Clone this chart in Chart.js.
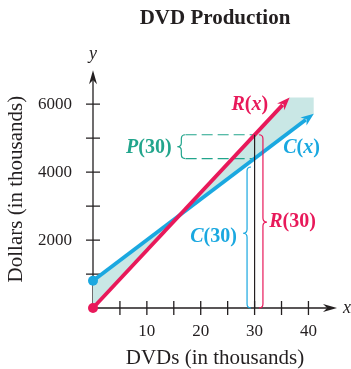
<!DOCTYPE html>
<html>
<head>
<meta charset="utf-8">
<script src="https://cdn.jsdelivr.net/npm/chart.js@4.4.0/dist/chart.umd.min.js"></script>
<style>
  html, body { margin: 0; padding: 0; background: #fff; }
  #wrap { width: 351px; height: 369px; }
</style>
</head>
<body>
<div id="wrap"><canvas id="chart"></canvas></div>
<script>
// values (x in thousands of DVDs, y in thousands of dollars)
const revenueLine = [{x: 0, y: 0}, {x: 35.2, y: 5980}];
const costLine = [{x: 0, y: 800}, {x: 39.5, y: 5540}];
const revenueTip = {x: 36.5, y: 6200};
const costTip = {x: 41, y: 5720};
const shadeTop = [{x: 0, y: 800}, {x: 16, y: 2720}, {x: 36.5, y: 6200}, {x: 41, y: 6200}];
const shadeBottom = [{x: 0, y: 0}, {x: 16, y: 2720}, {x: 41, y: 5720}];
const atX = 30;
const r30 = 5100;
const c30 = 4400;
const xTickLabels = [10, 20, 30, 40];
const yTickLabels = [2000, 4000, 6000];

const red = '#e8195a';
const blue = '#1aa8e0';
const teal = '#22a58c';
const ink = '#231f20';
const serif = '"Liberation Serif", "DejaVu Serif", serif';

function arrow(ctx, x0, y0, x1, y1, color, len, half) {
  const a = Math.atan2(y1 - y0, x1 - x0);
  ctx.save();
  ctx.translate(x1, y1);
  ctx.rotate(a);
  ctx.fillStyle = color;
  ctx.beginPath();
  ctx.moveTo(0, 0);
  ctx.lineTo(-len, -half);
  ctx.lineTo(-len * 0.7, 0);
  ctx.lineTo(-len, half);
  ctx.closePath();
  ctx.fill();
  ctx.restore();
}

function brace(ctx, x, y1, y2, ym, dir, w, color) {
  ctx.save();
  ctx.strokeStyle = color;
  ctx.lineWidth = 1.2;
  ctx.beginPath();
  ctx.moveTo(x - dir * w, y1);
  ctx.quadraticCurveTo(x, y1, x, y1 + w);
  ctx.lineTo(x, ym - w);
  ctx.quadraticCurveTo(x, ym, x + dir * w, ym);
  ctx.quadraticCurveTo(x, ym, x, ym + w);
  ctx.lineTo(x, y2 - w);
  ctx.quadraticCurveTo(x, y2, x - dir * w, y2);
  ctx.stroke();
  ctx.restore();
}

function mixed(ctx, parts, x, y, align, color) {
  let total = 0;
  parts.forEach(p => { ctx.font = p[1]; total += ctx.measureText(p[0]).width; });
  let cx = align === 'right' ? x - total : align === 'center' ? x - total / 2 : x;
  ctx.fillStyle = color;
  ctx.textAlign = 'left';
  ctx.textBaseline = 'middle';
  parts.forEach(p => { ctx.font = p[1]; ctx.fillText(p[0], cx, y); cx += ctx.measureText(p[0]).width; });
}

const BI = 'bold italic 20px ' + serif;
const B = 'bold 20px ' + serif;

const drawing = {
  id: 'drawing',
  beforeDatasetsDraw(chart) {
    const {ctx, chartArea: a} = chart;
    const xs = chart.scales.x, ys = chart.scales.y;
    const x0 = xs.getPixelForValue(0), y0 = ys.getPixelForValue(0);
    ctx.save();
    ctx.strokeStyle = ink;
    ctx.lineWidth = 1.3;
    ctx.beginPath();
    ctx.moveTo(x0, y0); ctx.lineTo(a.right - 6, y0);
    ctx.moveTo(x0, y0); ctx.lineTo(x0, a.top + 6);
    for (let v = 5; v <= 40; v += 5) {
      const px = xs.getPixelForValue(v);
      ctx.moveTo(px, y0 - 7); ctx.lineTo(px, y0 + 7);
    }
    for (let v = 1000; v <= 6000; v += 1000) {
      const py = ys.getPixelForValue(v);
      ctx.moveTo(x0 - 7, py); ctx.lineTo(x0 + 7, py);
    }
    ctx.stroke();
    arrow(ctx, x0, y0, a.right, y0, ink, 14, 4);
    arrow(ctx, x0, y0, x0, a.top, ink, 14, 4);
    ctx.fillStyle = ink;
    ctx.font = 'italic 18px ' + serif;
    ctx.textAlign = 'center';
    ctx.textBaseline = 'middle';
    ctx.fillText('y', x0, a.top - 16);
    ctx.textAlign = 'left';
    ctx.fillText('x', a.right + 6, y0);
    ctx.restore();
  },
  afterDatasetsDraw(chart) {
    const {ctx} = chart;
    const xs = chart.scales.x, ys = chart.scales.y;
    const px = v => xs.getPixelForValue(v), py = v => ys.getPixelForValue(v);
    ctx.save();
    const rl = revenueLine[revenueLine.length - 1], cl = costLine[costLine.length - 1];
    arrow(ctx, px(rl.x), py(rl.y), px(revenueTip.x), py(revenueTip.y), red, 13, 5);
    arrow(ctx, px(cl.x), py(cl.y), px(costTip.x), py(costTip.y), blue, 13, 5);
    // braces
    brace(ctx, px(16.4), py(r30), py(c30), py((r30 + c30) / 2), -1, 4, teal);
    brace(ctx, px(28.6), py(4150), py(0), py(2200), -1, 4, blue);
    brace(ctx, px(31.55), py(r30), py(0), py(2530), 1, 4, red);
    // labels
    mixed(ctx, [['R', BI], ['(', B], ['x', BI], [')', B]], px(32.5), py(5970), 'right', red);
    mixed(ctx, [['C', BI], ['(', B], ['x', BI], [')', B]], px(35.3), py(4706), 'left', blue);
    mixed(ctx, [['P', BI], ['(30)', B]], px(14.6), py(4720), 'right', teal);
    mixed(ctx, [['C', BI], ['(30)', B]], px(26.7), py(2088), 'right', blue);
    mixed(ctx, [['R', BI], ['(30)', B]], px(32.7), py(2530), 'left', red);
    ctx.restore();
  }
};

new Chart(document.getElementById('chart'), {
  type: 'line',
  data: {
    datasets: [
      {data: shadeTop, borderWidth: 0, pointRadius: 0, fill: '+1', backgroundColor: '#c9e7e5', order: 10},
      {data: shadeBottom, borderWidth: 0, pointRadius: 0, fill: false, order: 11},
      {data: [{x: 17.2, y: r30}, {x: atX, y: r30}], borderColor: teal, borderWidth: 1.2, borderDash: [11, 5], pointRadius: 0, order: 5},
      {data: [{x: 17.2, y: c30}, {x: atX, y: c30}], borderColor: teal, borderWidth: 1.2, borderDash: [11, 5], pointRadius: 0, order: 5},
      {data: costLine, borderColor: blue, borderWidth: 3.8, pointRadius: [5, 0], pointBackgroundColor: blue, pointBorderWidth: 0, order: 3},
      {data: revenueLine, borderColor: red, borderWidth: 3.8, pointRadius: [5, 0], pointBackgroundColor: red, pointBorderWidth: 0, order: 2},
      {data: [{x: atX, y: 0}, {x: atX, y: r30}], borderColor: ink, borderWidth: 1.2, pointRadius: 0, order: 1}
    ]
  },
  options: {
    responsive: true,
    maintainAspectRatio: false,
    animation: false,
    clip: false,
    layout: {padding: {left: 0, right: 14, top: 0, bottom: 0}},
    plugins: {
      legend: {display: false},
      tooltip: {enabled: false},
      title: {
        display: true,
        text: 'DVD Production',
        fullSize: false,
        color: ink,
        font: {family: serif, size: 21, weight: 'bold'},
        padding: {top: 6, bottom: 39}
      }
    },
    scales: {
      x: {
        type: 'linear',
        min: 0,
        max: 45.3,
        afterFit: s => { s.height = 61; },
        grid: {display: false},
        border: {display: false},
        ticks: {
          stepSize: 5,
          autoSkip: false,
          maxRotation: 0,
          padding: 5,
          color: ink,
          font: {family: serif, size: 17},
          callback: v => xTickLabels.includes(v) ? String(v) : ''
        },
        title: {display: true, text: 'DVDs (in thousands)', color: ink, font: {family: serif, size: 21, lineHeight: 1}, padding: {top: 0, bottom: 0}}
      },
      y: {
        type: 'linear',
        min: 0,
        max: 7000,
        afterFit: s => { s.width = 93; },
        grid: {display: false},
        border: {display: false},
        ticks: {
          stepSize: 1000,
          autoSkip: false,
          padding: 13,
          color: ink,
          font: {family: serif, size: 17},
          callback: v => yTickLabels.includes(v) ? String(v) : ''
        },
        title: {display: true, text: 'Dollars (in thousands)', color: ink, font: {family: serif, size: 21}, padding: {top: 4, bottom: 0}}
      }
    }
  },
  plugins: [drawing]
});
</script>
</body>
</html>
